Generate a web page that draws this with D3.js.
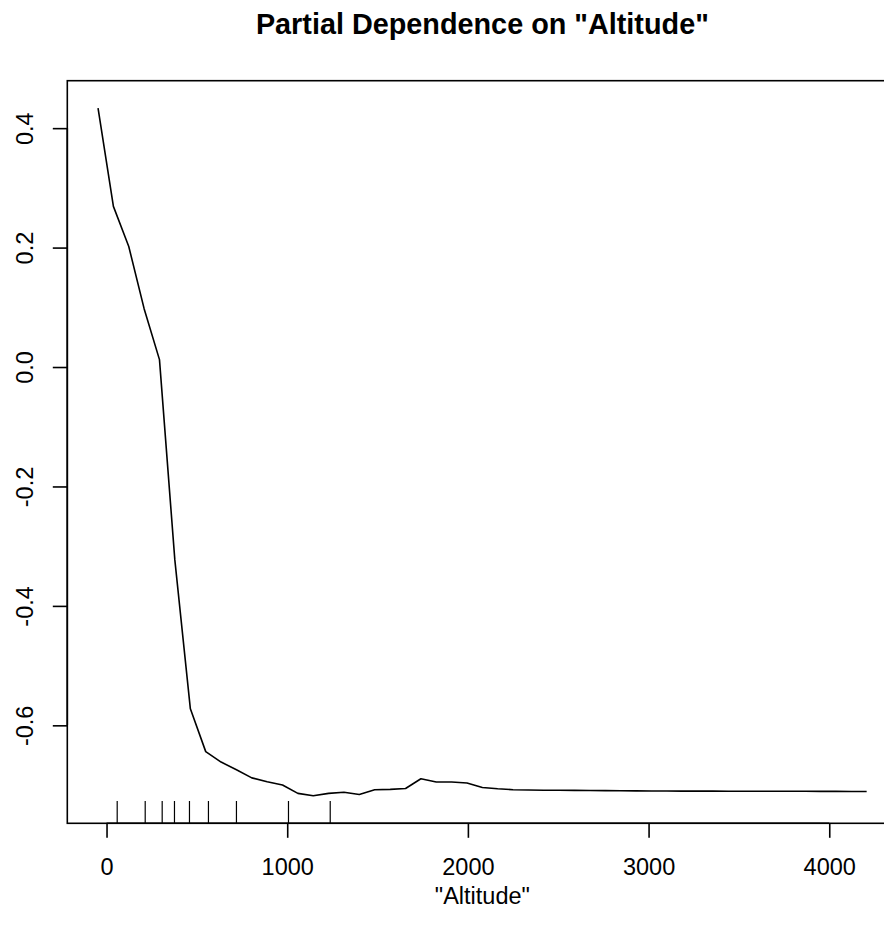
<!DOCTYPE html>
<html>
<head>
<meta charset="utf-8">
<script src="https://cdn.jsdelivr.net/npm/d3@7/dist/d3.min.js"></script>
<style>
  html, body { margin: 0; padding: 0; background: #fff; }
  svg { display: block; }
  text { font-family: "Liberation Sans", Arial, Helvetica, sans-serif; fill: #000; }
</style>
</head>
<body>
<svg id="chart" width="884" height="936"></svg>
<script>
// ---- data ----
const altitude = [
  -47, 38, 123, 208, 293, 378, 464, 549, 634, 719,
  804, 889, 974, 1059, 1144, 1229, 1314, 1399, 1484, 1570,
  1655, 1740, 1825, 1910, 1995, 2080, 2165, 2250, 2335, 2420,
  2506, 2591, 2676, 2761, 2846, 2931, 3016, 3101, 3186, 3271,
  3356, 3442, 3527, 3612, 3697, 3782, 3867, 3952, 4037, 4122,
  4207
];
const partialDep = [
  0.4334, 0.269, 0.2018, 0.0977, 0.0124, -0.323, -0.5724, -0.644, -0.6615, -0.6744,
  -0.688, -0.6945, -0.700, -0.714, -0.718, -0.714, -0.712, -0.7157, -0.708, -0.7073,
  -0.7057, -0.6895, -0.695, -0.695, -0.6966, -0.704, -0.7062, -0.7078, -0.7083, -0.7086,
  -0.7088, -0.709, -0.7092, -0.7094, -0.7095, -0.7097, -0.7099, -0.71, -0.7101, -0.7102,
  -0.7102, -0.7103, -0.7103, -0.7104, -0.7104, -0.7105, -0.7105, -0.7106, -0.7106, -0.7107,
  -0.7107
];
const rugDeciles = [59, 214, 308, 376, 459, 564, 719, 1007, 1238];
const xTicks = [0, 1000, 2000, 3000, 4000];
const yTicks = [-0.6, -0.4, -0.2, 0.0, 0.2, 0.4];
const yTickLabels = ["-0.6", "-0.4", "-0.2", "0.0", "0.2", "0.4"];
const titleText = 'Partial Dependence on "Altitude"';
const xLabelText = '"Altitude"';

// ---- layout ----
const svg = d3.select("#chart");
const plot = { left: 67.3, right: 897.4, top: 80.7, bottom: 823.3 };
const fs = 23.5;

const xr = d3.extent(altitude), yr = d3.extent(partialDep);
const xpad = (xr[1] - xr[0]) * 0.04, ypad = (yr[1] - yr[0]) * 0.04;
const x = d3.scaleLinear().domain([xr[0] - xpad, xr[1] + xpad]).range([plot.left, plot.right]);
const y = d3.scaleLinear().domain([yr[0] - ypad, yr[1] + ypad]).range([plot.bottom, plot.top]);

const stroke = 1.6;

// box
svg.append("rect")
  .attr("x", plot.left).attr("y", plot.top)
  .attr("width", plot.right - plot.left).attr("height", plot.bottom - plot.top)
  .attr("fill", "none").attr("stroke", "#000").attr("stroke-width", stroke);

// x axis
const xAxis = d3.axisBottom(x).tickValues(xTicks).tickSize(14.5).tickSizeOuter(0)
  .tickFormat(d3.format("d"));
const gx = svg.append("g").attr("transform", `translate(0,${plot.bottom})`).call(xAxis);
gx.select(".domain")
  .attr("d", `M${x(xTicks[0])},0H${x(xTicks[xTicks.length - 1])}`)
  .attr("stroke-width", stroke);
gx.selectAll(".tick line").attr("stroke-width", stroke);
gx.selectAll(".tick text")
  .attr("font-size", fs).attr("font-family", '"Liberation Sans", Arial, sans-serif')
  .attr("dy", null).attr("y", 51.8).attr("dominant-baseline", "alphabetic");

// y axis
const yAxis = d3.axisLeft(y).tickValues(yTicks).tickSize(14.5).tickSizeOuter(0)
  .tickFormat((d, i) => yTickLabels[i]);
const gy = svg.append("g").attr("transform", `translate(${plot.left},0)`).call(yAxis);
gy.select(".domain")
  .attr("d", `M0,${y(yTicks[0])}V${y(yTicks[yTicks.length - 1])}`)
  .attr("stroke-width", stroke);
gy.selectAll(".tick line").attr("stroke-width", stroke);
gy.selectAll(".tick text")
  .attr("font-size", fs).attr("font-family", '"Liberation Sans", Arial, sans-serif')
  .attr("x", null).attr("dy", null)
  .attr("text-anchor", "middle").attr("dominant-baseline", "alphabetic")
  .attr("transform", "translate(-34.6,0) rotate(-90)");

// line
const line = d3.line().x((d, i) => x(altitude[i])).y(d => y(d));
svg.append("path").datum(partialDep)
  .attr("d", line).attr("fill", "none").attr("stroke", "#000")
  .attr("stroke-width", stroke).attr("stroke-linejoin", "round");

// rug
const rugLen = (plot.bottom - plot.top) * 0.03;
svg.append("g").selectAll("line").data(rugDeciles).join("line")
  .attr("x1", d => x(d)).attr("x2", d => x(d))
  .attr("y1", plot.bottom).attr("y2", plot.bottom - rugLen)
  .attr("stroke", "#000").attr("stroke-width", 1.2);

// title
svg.append("text")
  .attr("x", (plot.left + plot.right) / 2).attr("y", 33.5)
  .attr("text-anchor", "middle").attr("font-weight", "bold").attr("font-size", 28.8)
  .text(titleText);

// x label
svg.append("text")
  .attr("x", (plot.left + plot.right) / 2).attr("y", 904)
  .attr("text-anchor", "middle").attr("font-size", fs)
  .text(xLabelText);
</script>
</body>
</html>
